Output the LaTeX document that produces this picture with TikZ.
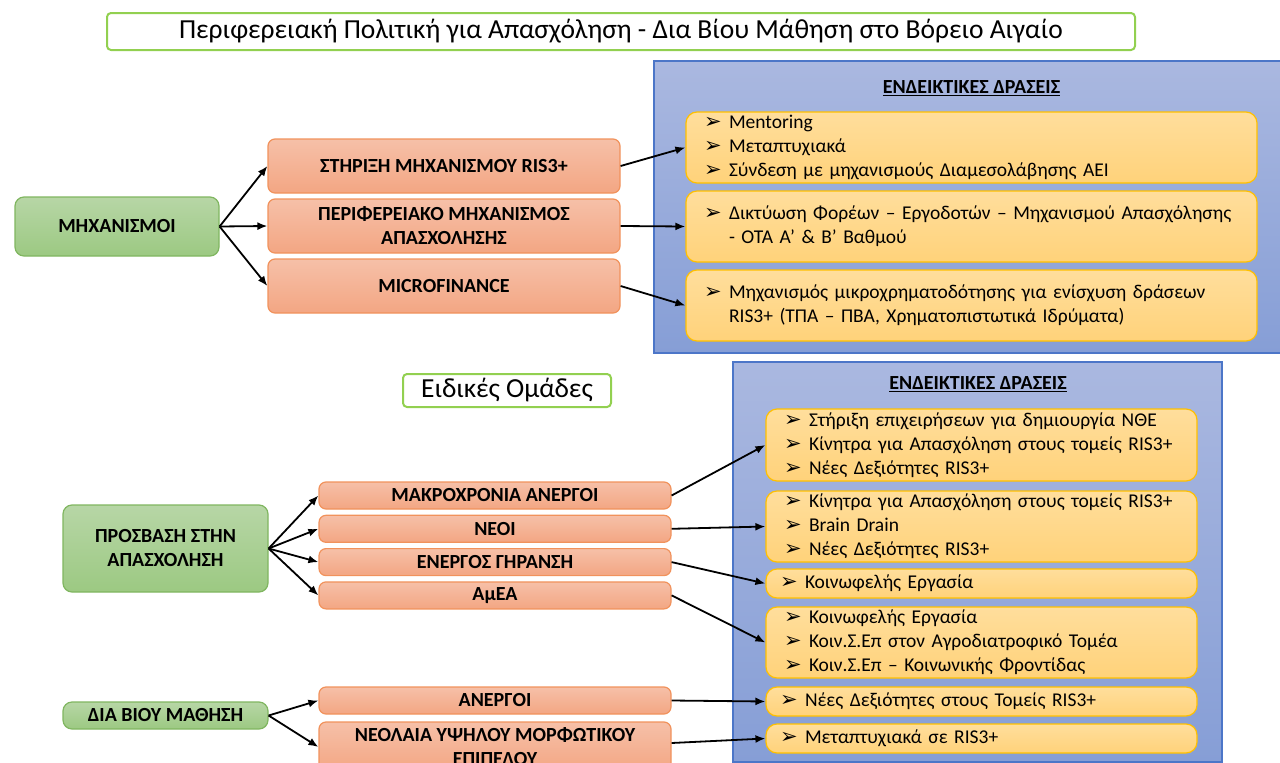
\documentclass[tikz,border=0pt]{standalone}
\usepackage{fontspec}
\setmainfont{Carlito}
\newfontfamily\dingfont{DejaVu Sans}
\usetikzlibrary{arrows.meta,shapes,positioning}

\definecolor{titlegreen}{RGB}{146,208,80}
\definecolor{catline}{RGB}{128,182,96}
\definecolor{cattop}{RGB}{183,214,166}
\definecolor{catbot}{RGB}{156,201,130}
\definecolor{grpline}{RGB}{241,146,92}
\definecolor{grptop}{RGB}{246,192,168}
\definecolor{grpbot}{RGB}{243,166,131}
\definecolor{paneltop}{RGB}{170,184,224}
\definecolor{panelbot}{RGB}{134,158,214}
\definecolor{panelline}{RGB}{76,118,200}
\definecolor{acttop}{RGB}{255,222,156}
\definecolor{actbot}{RGB}{255,210,122}
\definecolor{actline}{RGB}{255,192,0}

\newcommand{\bl}[1]{\mbox{\makebox[25pt][l]{\dingfont\fontsize{21}{21}\selectfont ➢}#1}}
\newcommand{\nb}[1]{\mbox{\hspace*{25pt}#1}}

\begin{document}
\begin{tikzpicture}[x=1pt,y=-1pt]

  \clip (0,0) rectangle (1280,763);

  \tikzstyle{titlenode}=[draw=titlegreen,line width=2pt,rounded corners=4pt,fill=white,inner sep=0pt,font=\fontsize{27.5}{30}\selectfont]
  \tikzstyle{catnode}=[draw=catline,line width=1.2pt,rounded corners=9pt,top color=cattop,bottom color=catbot,inner sep=0pt,align=center,font=\bfseries\fontsize{20}{24}\selectfont]
  \tikzstyle{grpnode}=[draw=grpline,line width=1.2pt,rounded corners=7pt,top color=grptop,bottom color=grpbot,inner sep=0pt,minimum width=352pt,align=center,font=\bfseries\fontsize{20}{24}\selectfont]
  \tikzstyle{panelnode}=[draw=panelline,line width=1.2pt,top color=paneltop,bottom color=panelbot,inner sep=0pt]
  \tikzstyle{actnode}=[draw=actline,line width=1.2pt,rounded corners=11pt,top color=acttop,bottom color=actbot,inner ysep=0pt,inner xsep=18pt,align=left,font=\fontsize{19.5}{24}\selectfont]
  \tikzstyle{headnode}=[inner sep=0pt,font=\bfseries\fontsize{20}{24}\selectfont]
  \tikzstyle{pointer}=[draw,->,>={Latex[length=10pt,width=8pt]},line width=1.8pt]

  % panels
  \node[panelnode,minimum width=636pt,minimum height=292pt] (toppanel) at (972,207) {};
  \node[panelnode,minimum width=489pt,minimum height=400pt] (botpanel) at (977.5,562) {};
  \node[headnode] (tophead) at (971.5,88) {\underline{ΕΝΔΕΙΚΤΙΚΕΣ ΔΡΑΣΕΙΣ}};
  \node[headnode] (bothead) at (978,384) {\underline{ΕΝΔΕΙΚΤΙΚΕΣ ΔΡΑΣΕΙΣ}};

  % titles
  \node[titlenode,minimum width=1028pt,minimum height=37pt] (title) at (621,31.5) {Περιφερειακή Πολιτική για Απασχόληση - Δια Βίου Μάθηση στο Βόρειο Αιγαίο};
  \node[titlenode,minimum width=208pt,minimum height=33pt] (groups) at (507,390.5) {Ειδικές Ομάδες};

  % categories
  \node[catnode,minimum width=204pt,minimum height=59pt] (mech) at (117,226.5) {ΜΗΧΑΝΙΣΜΟΙ};
  \node[catnode,minimum width=205pt,minimum height=87pt] (access) at (165.5,548.5) {ΠΡΟΣΒΑΣΗ ΣΤΗΝ\\ΑΠΑΣΧΟΛΗΣΗ};
  \node[catnode,minimum width=205pt,minimum height=27pt] (lifelong) at (165.5,715.5) {ΔΙΑ ΒΙΟΥ ΜΑΘΗΣΗ};

  % groups
  \node[grpnode,minimum height=54pt] (support) at (444,166) {ΣΤΗΡΙΞΗ ΜΗΧΑΝΙΣΜΟΥ RIS3+};
  \node[grpnode,minimum height=54pt,node distance=60pt] (regmech) [below of=support] {ΠΕΡΙΦΕΡΕΙΑΚΟ ΜΗΧΑΝΙΣΜΟΣ\\ΑΠΑΣΧΟΛΗΣΗΣ};
  \node[grpnode,minimum height=54pt,node distance=60pt] (micro) [below of=regmech] {MICROFINANCE};

  \node[grpnode,minimum height=27pt] (longterm) at (495,495.5) {ΜΑΚΡΟΧΡΟΝΙΑ ΑΝΕΡΓΟΙ};
  \node[grpnode,minimum height=27pt,node distance=33.3pt] (young) [below of=longterm] {ΝΕΟΙ};
  \node[grpnode,minimum height=27pt,node distance=33.3pt] (ageing) [below of=young] {ΕΝΕΡΓΟΣ ΓΗΡΑΝΣΗ};
  \node[grpnode,minimum height=27pt,node distance=33.3pt] (disabled) [below of=ageing] {ΑμΕΑ};

  \node[grpnode,minimum height=27pt] (unemployed) at (495,700.5) {ΑΝΕΡΓΟΙ};
  \node[grpnode,minimum height=50pt] (youth) at (495,747) {ΝΕΟΛΑΙΑ ΥΨΗΛΟΥ ΜΟΡΦΩΤΙΚΟΥ\\ΕΠΙΠΕΔΟΥ};

  % actions
  \node[actnode,minimum width=571pt,minimum height=71pt,text width=535pt] (act1) at (971.5,147.5) {\bl{Mentoring}\\\bl{Μεταπτυχιακά}\\\bl{Σύνδεση με μηχανισμούς Διαμεσολάβησης ΑΕΙ}};
  \node[actnode,minimum width=571pt,minimum height=71pt,text width=535pt,node distance=79pt] (act2) [below of=act1] {\bl{Δικτύωση Φορέων – Εργοδοτών – Μηχανισμού Απασχόλησης}\\\nb{- ΟΤΑ Α’ \& Β’ Βαθμού}};
  \node[actnode,minimum width=571pt,minimum height=71pt,text width=535pt,node distance=79pt] (act3) [below of=act2] {\bl{Μηχανισμός μικροχρηματοδότησης για ενίσχυση δράσεων}\\\nb{RIS3+ (ΤΠΑ – ΠΒΑ, Χρηματοπιστωτικά Ιδρύματα)}};

  \node[actnode,minimum width=431pt,minimum height=72pt,text width=395pt] (actA) at (981.5,445) {\bl{Στήριξη επιχειρήσεων για δημιουργία ΝΘΕ}\\\bl{Κίνητρα για Απασχόληση στους τομείς RIS3+}\\\bl{Νέες Δεξιότητες RIS3+}};
  \node[actnode,minimum width=431pt,minimum height=71pt,text width=395pt] (actB) at (981.5,526.5) {\bl{Κίνητρα για Απασχόληση στους τομείς RIS3+}\\\bl{Brain Drain}\\\bl{Νέες Δεξιότητες RIS3+}};
  \node[actnode,minimum width=431pt,minimum height=29pt,text width=403pt,inner xsep=14pt] (actC) at (981.5,583.5) {\bl{Κοινωφελής Εργασία}};
  \node[actnode,minimum width=431pt,minimum height=71pt,text width=395pt] (actD) at (981.5,642.5) {\bl{Κοινωφελής Εργασία}\\\bl{Κοιν.Σ.Επ στον Αγροδιατροφικό Τομέα}\\\bl{Κοιν.Σ.Επ – Κοινωνικής Φροντίδας}};
  \node[actnode,minimum width=431pt,minimum height=29pt,text width=403pt,inner xsep=14pt] (actE) at (981.5,701.5) {\bl{Νέες Δεξιότητες στους Τομείς RIS3+}};
  \node[actnode,minimum width=431pt,minimum height=29pt,text width=403pt,inner xsep=14pt] (actF) at (981.5,738.5) {\bl{Μεταπτυχιακά σε RIS3+}};

  % pointers
  \draw[pointer] (mech.east) -- (support.west);
  \draw[pointer] (mech.east) -- (regmech.west);
  \draw[pointer] (mech.east) -- (micro.west);

  \draw[pointer] (access.east) -- (longterm.west);
  \draw[pointer] (access.east) -- (young.west);
  \draw[pointer] (access.east) -- (ageing.west);
  \draw[pointer] (access.east) -- (disabled.west);

  \draw[pointer] (lifelong.east) -- (unemployed.west);
  \draw[pointer] (lifelong.east) -- (youth.west);

  \draw[pointer] (support.east) -- (act1.west);
  \draw[pointer] (regmech.east) -- (act2.west);
  \draw[pointer] (micro.east) -- (act3.west);

  \draw[pointer] (longterm.east) -- (actA.west);
  \draw[pointer] (young.east) -- (actB.west);
  \draw[pointer] (ageing.east) -- (actC.west);
  \draw[pointer] (disabled.east) -- (actD.west);
  \draw[pointer] (unemployed.east) -- (actE.west);
  \draw[pointer] ([yshift=4pt]youth.east) -- (actF.west);

\end{tikzpicture}
\end{document}
